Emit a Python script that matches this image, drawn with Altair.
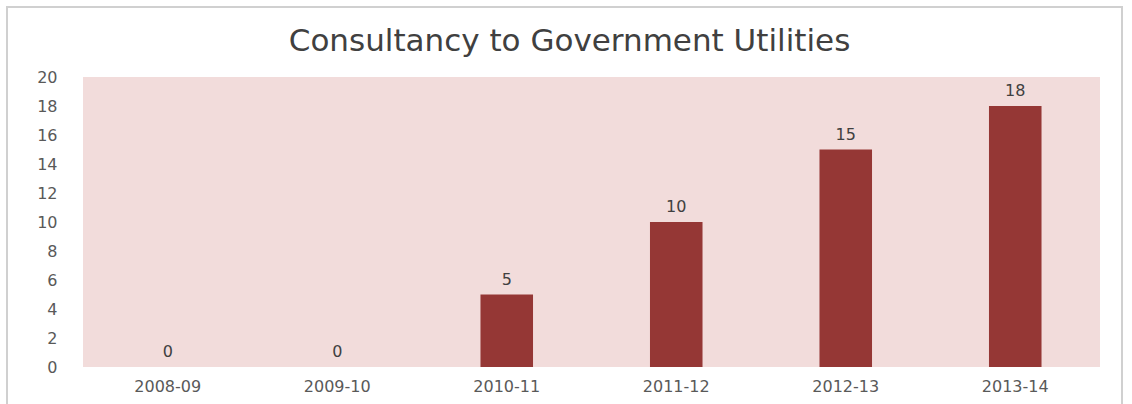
import altair as alt
import pandas as pd

years = ["2008-09", "2009-10", "2010-11", "2011-12", "2012-13", "2013-14"]
values = [0, 0, 5, 10, 15, 18]

df = pd.DataFrame({"year": years, "value": values})

FONT = "DejaVu Sans"

base = alt.Chart(df).encode(
    x=alt.X("year:N", sort=years, title=None,
            scale=alt.Scale(paddingInner=0.69, paddingOuter=0.345),
            axis=alt.Axis(labelAngle=0, ticks=False, domain=False, labelPadding=11,
                          labelFont=FONT, labelFontSize=16, labelColor="#595959")),
    y=alt.Y("value:Q", title=None,
            scale=alt.Scale(domain=[0, 20], nice=False),
            axis=alt.Axis(values=list(range(0, 21, 2)), ticks=False, domain=False, grid=False,
                          labelPadding=26, labelFont=FONT, labelFontSize=16, labelColor="#595959")),
)

bars = base.mark_bar(color="#953735")
labels = base.mark_text(dy=-15, font=FONT, fontSize=16, color="#404040").encode(text="value:Q")

border = alt.Chart(df).mark_rect(fill=None, stroke="#d0d0d0", strokeWidth=1.5).encode(
    x=alt.value(-76), x2=alt.value(1039), y=alt.value(-70), y2=alt.value(333)
)

chart = alt.layer(bars, labels, border).properties(
    width=1017, height=290,
    autosize=alt.AutoSizeParams(type="none"),
    padding={"left": 83, "top": 77, "right": 32, "bottom": 37},
    background="white",
    title=alt.TitleParams("Consultancy to Government Utilities", font=FONT, fontSize=31,
                          fontWeight="normal", color="#404040", anchor="middle",
                          dx=-22, offset=-52),
).configure_view(fill="#F2DCDB", stroke=None)

chart.save("out.html", embed_options={"renderer": "svg", "actions": False})
